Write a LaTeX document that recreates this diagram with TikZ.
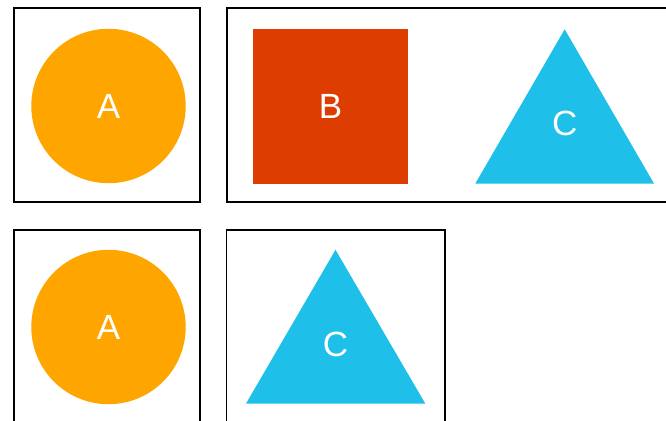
\documentclass[tikz,border=0pt]{standalone}
\usepackage{fontspec}
\setmainfont{Liberation Sans}
\definecolor{aorange}{HTML}{FFA500}
\definecolor{bred}{HTML}{DE3D02}
\definecolor{ccyan}{HTML}{1EBFE9}
\begin{document}
\begin{tikzpicture}[x=1pt,y=-1pt,
  frame/.style={draw=black,line width=1.6pt},
  lbl/.style={text=white,font=\fontsize{35}{42}\selectfont,inner sep=0pt},
  circA/.style={circle,fill=aorange,minimum size=154.4pt,inner sep=0pt,lbl},
  sqB/.style={rectangle,fill=bred,minimum size=155pt,inner sep=0pt,lbl}]
\useasboundingbox (0,0) rectangle (666,420);
\clip (0,0) rectangle (666,420);
% frames
\draw[frame] (14,7.8) rectangle (200,202);
\draw[frame] (227,7.8) rectangle (680,202);
\draw[frame] (14,230) rectangle (200,440);
\draw[frame] (226.5,230) rectangle (445,440);
% top row
\node[circA] (a1) at (108.5,106) {A};
\node[sqB] (b1) at (330.5,106.5) {B};
\fill[ccyan] (564.7,29.3) -- (654,183.6) -- (475.3,183.6) -- cycle;
\node[lbl] (c1) at (564.7,123.5) {C};
% bottom row
\node[circA] (a2) at (108.5,327) {A};
\fill[ccyan] (335.5,249.8) -- (425.3,403.6) -- (246,403.6) -- cycle;
\node[lbl] (c2) at (335.5,344.5) {C};
\end{tikzpicture}
\end{document}
